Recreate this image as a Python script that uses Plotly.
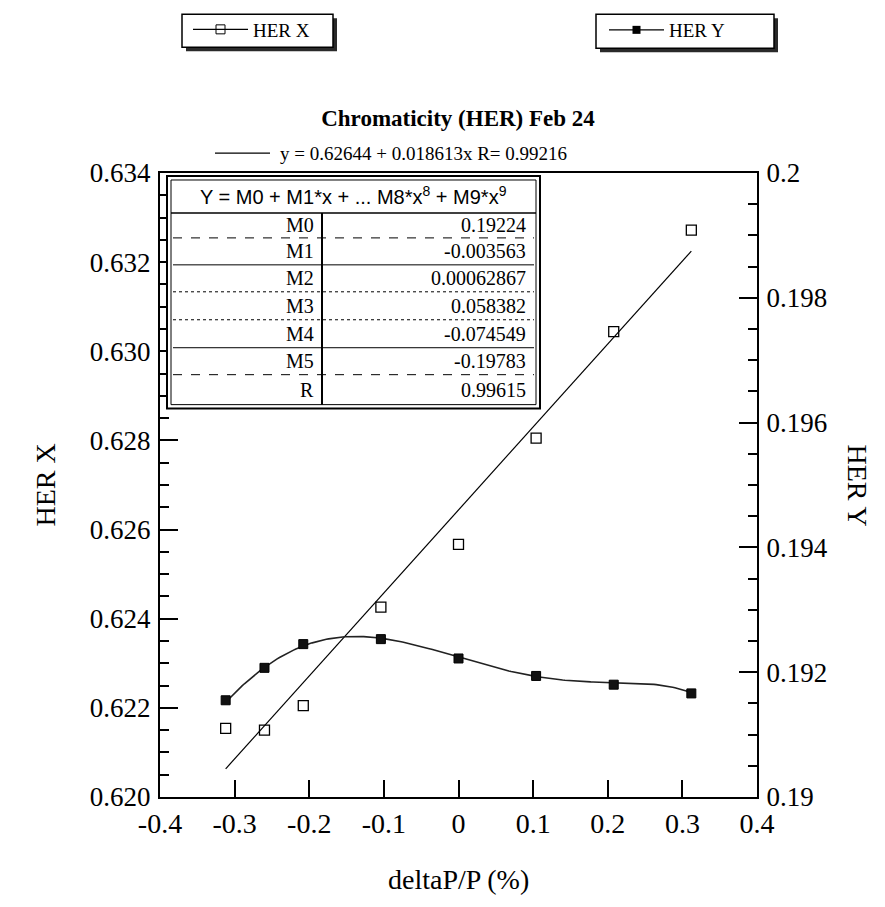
import numpy as np
import plotly.graph_objects as go

# ---------------- data ----------------
delta_p = [-0.312, -0.26, -0.208, -0.104, 0.0, 0.104, 0.208, 0.312]
her_x = [0.62154, 0.62150, 0.62205, 0.62426, 0.62567, 0.62805, 0.63044, 0.63272]
her_y = [0.19155, 0.19207, 0.19245, 0.19253, 0.19222, 0.19194, 0.19180, 0.19166]

lin_b0 = 0.62644
lin_b1 = 0.018613
lin_r = 0.99216

poly_names = ["M0", "M1", "M2", "M3", "M4", "M5", "R"]
poly_text = ["0.19224", "-0.003563", "0.00062867", "0.058382", "-0.074549", "-0.19783", "0.99615"]
poly_coef = [0.19224, -0.003563, 0.00062867, 0.058382, -0.074549, -0.19783]

x_ticks = [-0.4, -0.3, -0.2, -0.1, 0.0, 0.1, 0.2, 0.3, 0.4]
x_ticktext = ["-0.4", "-0.3", "-0.2", "-0.1", "0", "0.1", "0.2", "0.3", "0.4"]
yl_ticks = [0.620, 0.622, 0.624, 0.626, 0.628, 0.630, 0.632, 0.634]
yr_ticks = [0.190, 0.192, 0.194, 0.196, 0.198, 0.200]
yr_ticktext = ["0.19", "0.192", "0.194", "0.196", "0.198", "0.2"]

# ---------------- geometry helpers (pixel -> paper) ----------------
W, H = 885, 907
L, R, T, B = 160, 757, 172, 797


def X(px):
    return (px - L) / (R - L)


def Y(py):
    return (B - py) / (B - T)


SERIF = "Liberation Serif"
SANS = "Liberation Sans"

fig = go.Figure()

# fit line for HER X (from displayed regression)
xl = np.array([min(delta_p), max(delta_p)])
fig.add_trace(go.Scatter(x=xl, y=lin_b0 + lin_b1 * xl, mode="lines",
                         line=dict(color="black", width=1.2),
                         showlegend=False, hoverinfo="skip"))
# HER X points
fig.add_trace(go.Scatter(x=delta_p, y=her_x, mode="markers", name="HER X",
                         marker=dict(symbol="square-open", size=10, color="black",
                                     line=dict(width=1.3, color="black")),
                         showlegend=False))
# polynomial fit curve for HER Y
xc = np.linspace(min(delta_p), max(delta_p), 200)
yc = np.polyval(poly_coef[::-1], xc)
fig.add_trace(go.Scatter(x=xc, y=yc, mode="lines", yaxis="y2",
                         line=dict(color="#222", width=1.6),
                         showlegend=False, hoverinfo="skip"))
fig.add_trace(go.Scatter(x=delta_p, y=her_y, mode="markers", name="HER Y", yaxis="y2",
                         marker=dict(symbol="square", size=9, color="#111",
                                     line=dict(width=1, color="black")),
                         showlegend=False))

# legend entries
fig.add_trace(go.Scatter(x=[None], y=[None], mode="lines+markers", name="HER X",
                         line=dict(color="black", width=1.2),
                         marker=dict(symbol="square-open", size=9, color="black"),
                         legend="legend"))
fig.add_trace(go.Scatter(x=[None], y=[None], mode="lines+markers", name="HER Y",
                         line=dict(color="black", width=1.2),
                         marker=dict(symbol="square", size=8, color="black"),
                         legend="legend2"))

shapes = []
ann = []

# ---------- coefficient table ----------
tl, tr, tt, tb = 167, 540, 175, 408
shapes.append(dict(type="rect", xref="paper", yref="paper", x0=X(tl), x1=X(tr), y0=Y(tb), y1=Y(tt),
                   line=dict(color="black", width=2), fillcolor="white", layer="above"))
shapes.append(dict(type="rect", xref="paper", yref="paper", x0=X(tl + 4), x1=X(tr - 4), y0=Y(tb - 4), y1=Y(tt + 4),
                   line=dict(color="black", width=1), layer="above"))
hdr_bot = 212
row_lines = [237, 264, 291, 319, 347, 374]
row_dash = ["dash", "solid", "dot", "dot", "solid", "dash"]
shapes.append(dict(type="line", xref="paper", yref="paper", x0=X(tl + 4), x1=X(tr - 4),
                   y0=Y(hdr_bot), y1=Y(hdr_bot), line=dict(color="black", width=1.6), layer="above"))
for yy, ds in zip(row_lines, row_dash):
    shapes.append(dict(type="line", xref="paper", yref="paper", x0=X(tl + 6), x1=X(tr - 6),
                       y0=Y(yy), y1=Y(yy), line=dict(color="black", width=1, dash=ds), layer="above"))
div_x = 322
shapes.append(dict(type="line", xref="paper", yref="paper", x0=X(div_x), x1=X(div_x),
                   y0=Y(tb - 4), y1=Y(hdr_bot), line=dict(color="black", width=2), layer="above"))

ann.append(dict(xref="paper", yref="paper", x=X((tl + tr) / 2), y=Y(195), xanchor="center", yanchor="middle",
                text="Y = M0 + M1*x + ... M8*x<sup>8</sup> + M9*x<sup>9</sup>", showarrow=False,
                font=dict(family=SANS, size=20, color="black")))
row_edges = [hdr_bot] + row_lines + [tb - 4]
for i, (nm, vt) in enumerate(zip(poly_names, poly_text)):
    yc_px = (row_edges[i] + row_edges[i + 1]) / 2
    ann.append(dict(xref="paper", yref="paper", x=X(div_x - 6), y=Y(yc_px), xanchor="right", yanchor="middle",
                    text=nm, showarrow=False, font=dict(family=SERIF, size=20, color="black")))
    ann.append(dict(xref="paper", yref="paper", x=X(tr - 12), y=Y(yc_px), xanchor="right", yanchor="middle",
                    text=vt, showarrow=False, font=dict(family=SERIF, size=20, color="black")))

# ---------- regression equation label ----------
shapes.append(dict(type="line", xref="paper", yref="paper", x0=X(215), x1=X(270), y0=Y(152), y1=Y(152),
                   line=dict(color="black", width=1.2)))
ann.append(dict(xref="paper", yref="paper", x=X(278), y=Y(152), xanchor="left", yanchor="middle",
                text=f"y = {lin_b0} + {lin_b1}x R= {lin_r}", showarrow=False,
                font=dict(family=SERIF, size=19, color="black")))

# ---------- axis titles ----------
ann.append(dict(xref="paper", yref="paper", x=X(45), y=Y(485), text="HER X", textangle=-90,
                xanchor="center", yanchor="middle",
                showarrow=False, font=dict(family=SERIF, size=28, color="black")))
ann.append(dict(xref="paper", yref="paper", x=X(858), y=Y(485), text="HER Y", textangle=90,
                xanchor="center", yanchor="middle",
                showarrow=False, font=dict(family=SERIF, size=28, color="black")))
ann.append(dict(xref="paper", yref="paper", x=X(458), y=Y(880), text="deltaP/P (%)",
                xanchor="center", yanchor="middle",
                showarrow=False, font=dict(family=SERIF, size=28, color="black")))

# ---------- legend frames (with drop shadow) ----------
for (x0, x1, y0, y1) in [(182, 333, 13, 46), (596, 774, 13, 47)]:
    shapes.append(dict(type="rect", xref="paper", yref="paper", x0=X(x0 + 4), x1=X(x1 + 4),
                       y0=Y(y1 + 4), y1=Y(y0 + 4), line=dict(width=0), fillcolor="#2a2a2a"))
    shapes.append(dict(type="rect", xref="paper", yref="paper", x0=X(x0), x1=X(x1),
                       y0=Y(y1), y1=Y(y0), line=dict(color="black", width=1.5), fillcolor="white"))

leg_common = dict(xanchor="left", yanchor="middle", bgcolor="rgba(0,0,0,0)", borderwidth=0,
                  itemwidth=55, font=dict(family=SERIF, size=19, color="black"))

fig.update_layout(
    width=W, height=H,
    margin=dict(l=L, r=W - R, t=T, b=H - B),
    paper_bgcolor="white", plot_bgcolor="white",
    title=dict(text="Chromaticity (HER) Feb 24", x=(X(458) * (R - L) + L) / W, xanchor="center",
               y=1 - 118 / H, yanchor="middle",
               font=dict(family=SERIF, size=23, color="black", weight="bold")),
    xaxis=dict(range=[-0.4, 0.4], tickvals=x_ticks, ticktext=x_ticktext, ticks="inside", ticklen=17,
               tickwidth=2, tickcolor="black", showline=True, linecolor="black", linewidth=2, mirror=True,
               showgrid=False, zeroline=False, tickfont=dict(family=SERIF, size=28, color="black"),
               ticklabelstandoff=0),
    yaxis=dict(range=[0.620, 0.634], tickvals=yl_ticks, tickformat=".3f", ticks="inside", ticklen=18,
               tickwidth=2, tickcolor="black", showline=True, linecolor="black", linewidth=2,
               showgrid=False, zeroline=False, tickfont=dict(family=SERIF, size=27, color="black"),
               minor=dict(dtick=0.0005, ticks="inside", ticklen=9, tickwidth=1.5, tickcolor="black",
                          showgrid=False), ticklabelstandoff=2),
    yaxis2=dict(range=[0.190, 0.200], overlaying="y", side="right", tickvals=yr_ticks, ticktext=yr_ticktext,
                ticks="inside", ticklen=18, tickwidth=2, tickcolor="black", showline=True, linecolor="black",
                linewidth=2, showgrid=False, zeroline=False, tickfont=dict(family=SERIF, size=27, color="black"),
                minor=dict(dtick=0.0005, ticks="inside", ticklen=9, tickwidth=1.5, tickcolor="black",
                           showgrid=False), ticklabelstandoff=2),
    legend=dict(x=X(188), y=Y(29.5), **leg_common),
    legend2=dict(x=X(604), y=Y(30), **leg_common),
    shapes=shapes,
    annotations=ann,
)

fig.write_html("out.html")
